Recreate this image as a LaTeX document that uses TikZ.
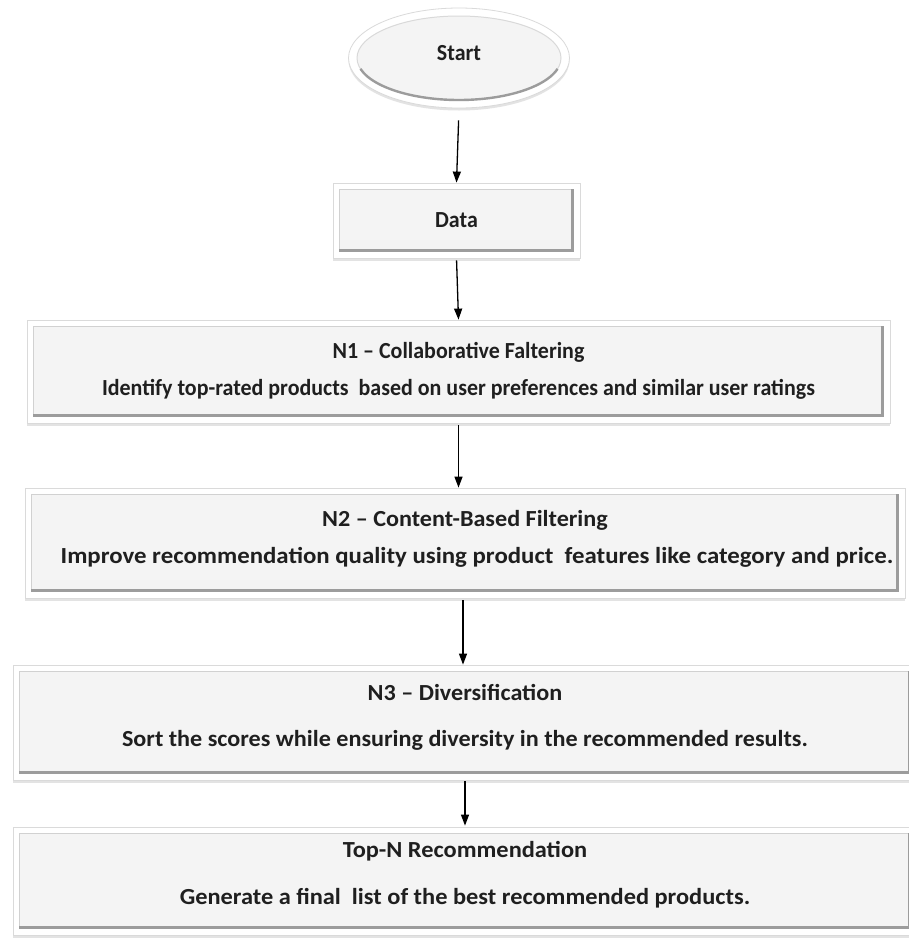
\documentclass[tikz,border=0pt]{standalone}
\usepackage{fontspec}
\setmainfont{Carlito}[FakeStretch=0.955]
\newfontfamily\stretchB{Carlito}[FakeStretch=1.08]
\newfontfamily\stretchC{Carlito}[FakeStretch=1.05]
\newfontfamily\stretchD{Carlito}[FakeStretch=1.06]
\usetikzlibrary{shapes.geometric,shadows,arrows.meta}
\definecolor{boxfill}{HTML}{F4F4F4}
\definecolor{rim}{HTML}{9C9C9C}
\definecolor{edge}{HTML}{DADADA}
\tikzset{
  lbl/.style={font=\bfseries\fontsize{23}{27}\selectfont, text=black!88, align=center},
  bevelbox/.style={rectangle, lbl, fill=white, draw=edge, line width=0.8pt, inner sep=0pt,
    drop shadow={opacity=0.22, shadow xshift=0pt, shadow yshift=-2.5pt},
    path picture={
      \fill[boxfill] ([shift={(6pt,-6pt)}]path picture bounding box.north west) rectangle ([shift={(-6pt,6pt)}]path picture bounding box.south east);
      \draw[black!18, line width=1.2pt] ([shift={(6.5pt,6pt)}]path picture bounding box.south west) -- ([shift={(6.5pt,-6.5pt)}]path picture bounding box.north west) -- ([shift={(-6pt,-6.5pt)}]path picture bounding box.north east);
      \draw[rim, line width=2.8pt] ([shift={(6pt,7.4pt)}]path picture bounding box.south west) -- ([shift={(-7.4pt,7.4pt)}]path picture bounding box.south east) -- ([shift={(-7.4pt,-6pt)}]path picture bounding box.north east);
    }},
  startell/.style={ellipse, lbl, fill=white, draw=edge, line width=0.8pt, inner sep=0pt,
    drop shadow={opacity=0.22, shadow xshift=0pt, shadow yshift=-2.5pt},
    path picture={
      \fill[boxfill] (path picture bounding box.center) ellipse [x radius=102pt, y radius=42pt];
      \draw[black!15, line width=1pt] (path picture bounding box.center) ellipse [x radius=102pt, y radius=42pt];
      \draw[rim, line width=2.4pt] ([shift={(195:102pt and 42pt)}]path picture bounding box.center) arc [start angle=195, end angle=345, x radius=102pt, y radius=42pt];
    }},
  arr/.style={draw=black, line width=1.3pt, -{Triangle[length=11pt,width=8pt]}},
}
\begin{document}
\begin{tikzpicture}[x=1pt,y=-1pt]
\useasboundingbox (0,0) rectangle (909,940);
\fill[white] (0,0) rectangle (909,940);

\node[startell, minimum width=221pt, minimum height=100pt, text depth=10pt] (start) at (459,58) {Start};
\node[bevelbox, minimum width=247pt, minimum height=75pt] (data) at (456.5,220.5) {Data};
\node[bevelbox, minimum width=863pt, minimum height=103pt, text depth=6pt] (n1) at (458.5,371.5)
  {N1 – Collaborative Faltering\\[10pt]Identify top-rated products\ \ based on user preferences and similar user ratings};
\node[bevelbox, minimum width=880pt, minimum height=110pt, text depth=13pt] (n2) at (465,543)
  {{\stretchC N2 – Content-Based Filtering}\\[10pt]\hspace*{24pt}{\stretchB Improve recommendation quality using product\ \ features like category and price.}};
\node[bevelbox, minimum width=904pt, minimum height=115pt, text depth=14pt] (n3) at (465,722.5)
  {{\stretchC N3 – Diversification}\\[19pt]{\stretchC Sort the scores while ensuring diversity in the recommended results.}};
\node[bevelbox, minimum width=904pt, minimum height=108pt, text depth=16pt] (topn) at (465,881)
  {{\stretchD Top-N Recommendation}\\[20pt]{\stretchD Generate a final\ \ list of the best recommended products.}};

\draw[arr, shorten <=12pt] (start.south) -- (data.north);
\draw[arr, shorten <=2pt] (data.south) -- (n1.north);
\draw[arr, shorten <=2pt] (n1.south) -- (n1.south |- n2.north);
\draw[arr, shorten <=2pt] ([xshift=-2pt]n2.south) -- ([xshift=-2pt]n2.south |- n3.north);
\draw[arr, shorten <=1pt, shorten >=1pt] (n3.south) -- (topn.north);
\end{tikzpicture}
\end{document}
